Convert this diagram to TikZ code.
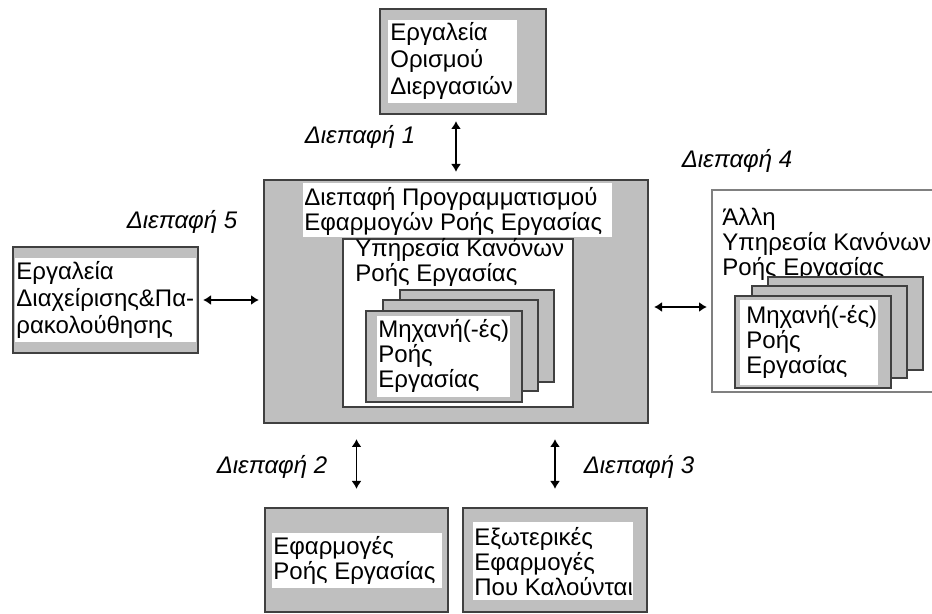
\documentclass[tikz,border=0pt]{standalone}
\usepackage{fontspec}
\setmainfont{Liberation Sans}
\usetikzlibrary{arrows.meta,fit}
\hyphenpenalty=10000
\exhyphenpenalty=10000

\begin{document}
\begin{tikzpicture}[x=0.5pt,y=-0.5pt,
  txt/.style      = {inner sep=0pt, align=left,
                     font=\fontsize{12}{12.5}\selectfont},
  loose/.style    = {font=\fontsize{12}{13.5}\selectfont},
  lbl/.style      = {inner sep=0pt,
                     font=\fontsize{12}{12.5}\selectfont\itshape},
  graybox/.style  = {draw=black!75, line width=1pt,
                     fill=black!25, inner sep=0pt},
  whitebox/.style = {draw=black!75, line width=1pt,
                     fill=white, inner sep=0pt},
  card/.style     = {draw=black!75, line width=0.8pt,
                     fill=black!25, inner sep=0pt},
  patch/.style    = {fill=white, inner sep=0pt},
  link/.style     = {{Latex[length=4pt,width=5pt]}-{Latex[length=4pt,width=5pt]},
                     line width=0.8pt}]
  \clip (0,0) rectangle (932,614);

  % process definition tools
  \node[graybox, fit={(380,9) (546,114)}] (defn) {};
  \node[patch, fit={(388,20) (517,103)}] (defnw) {};
  \node[txt, loose, anchor=west] (defnt) at (390,61)
    {Εργαλεία\\Ορισμού\\Διεργασιών};

  % workflow enactment service
  \node[graybox, fit={(264,180) (648,423)}] (api) {};
  \node[patch, fit={(303,183) (612,237)}] (apiw) {};
  \node[txt, anchor=west] (apit) at (304,211)
    {Διεπαφή Προγραμματισμού\\Εφαρμογών Ροής Εργασίας};
  \node[whitebox, fit={(343,239) (573,407)}] (rules) {};
  \node[txt, anchor=north west] (rulest) at (355,238)
    {Υπηρεσία Κανόνων\\Ροής Εργασίας};
  \node[card, fit={(400,290) (554,382)}] (engc) {};
  \node[card, fit={(383,300) (538,391)}] (engb) {};
  \node[card, fit={(366,311) (522,402)}] (enga) {};
  \node[patch, fit={(377,316) (510,397)}] (engw) {};
  \node[txt, anchor=west] (engt) at (378,356)
    {Μηχανή(-ές)\\Ροής\\Εργασίας};

  % administration & monitoring
  \node[graybox, fit={(13,247) (198,353)}] (mon) {};
  \node[patch, fit={(15,258) (196,342)}] (monw) {};
  \node[txt, loose, anchor=west] (mont) at (16,300)
    {Εργαλεία\\Διαχείρισης\&Πα-\\ρακολούθησης};

  % other enactment service
  \node[draw=black!50, line width=1pt, fill=white, inner sep=0pt,
        fit={(712,190) (950,392)}] (other) {};
  \node[txt, anchor=north west] (othert) at (722,208)
    {Άλλη\\Υπηρεσία Κανόνων\\Ροής Εργασίας};
  \node[card, fit={(768,277) (923,370)}] (oengc) {};
  \node[card, fit={(752,286) (907,378)}] (oengb) {};
  \node[card, fit={(735,296) (891,388)}] (oenga) {};
  \node[patch, fit={(740,300) (878,385)}] (oengw) {};
  \node[txt, anchor=west] (oengt) at (746,342)
    {Μηχανή(-ές)\\Ροής\\Εργασίας};

  % client & invoked applications
  \node[graybox, fit={(265,508) (448,612)}] (apps) {};
  \node[patch, fit={(272,533) (442,588)}] (appsw) {};
  \node[txt, anchor=west] (appst) at (273,560)
    {Εφαρμογές\\Ροής Εργασίας};
  \node[graybox, fit={(463,508) (647,612)}] (ext) {};
  \node[patch, fit={(473,522) (633,600)}] (extw) {};
  \node[txt, anchor=west] (extt) at (474,562)
    {Εξωτερικές\\Εφαρμογές\\Που Καλούνται};

  % interfaces
  \node[lbl] (if1) at (360,137) {Διεπαφή 1};
  \node[lbl] (if2) at (272,467) {Διεπαφή 2};
  \node[lbl] (if3) at (639,467) {Διεπαφή 3};
  \node[lbl] (if4) at (737,161) {Διεπαφή 4};
  \node[lbl] (if5) at (182,222) {Διεπαφή 5};

  \draw[link, shorten <=3.5pt, shorten >=3pt] (api.north) -- (api.north |- defn.south);
  \draw[link, shorten <=9pt, shorten >=7.5pt] (apps.north) -- (apps.north |- api.south);
  \draw[link, shorten <=9pt, shorten >=7.5pt] (ext.north) -- (ext.north |- api.south);
  \draw[link, shorten <=2.5pt, shorten >=2pt] (api.east |- 0,307) -- (other.west |- 0,307);
  \draw[link, shorten <=2pt, shorten >=2pt] (mon.east) -- (mon.east -| api.west);
\end{tikzpicture}
\end{document}
